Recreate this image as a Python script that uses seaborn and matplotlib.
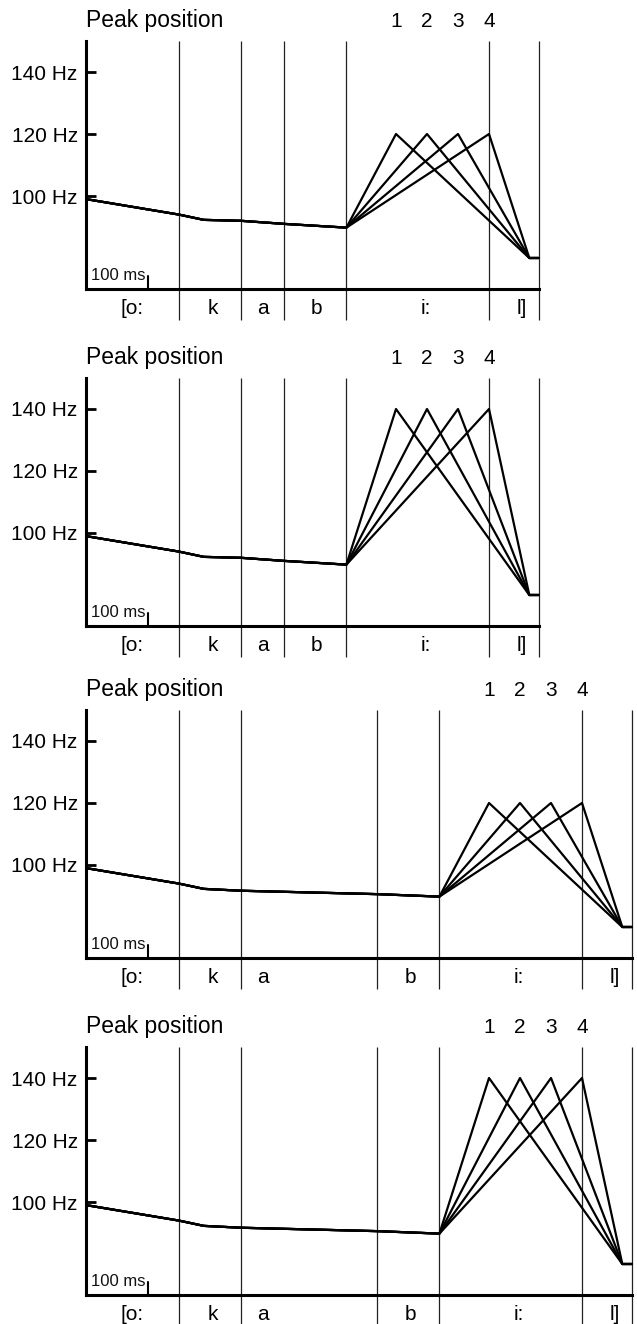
import matplotlib
matplotlib.use("Agg")
import matplotlib.pyplot as plt
import numpy as np
import pandas as pd
import seaborn as sns

# ---------------- data ----------------
segments = ["[o:", "k", "a", "b", "i:", "l]"]
bounds_short_a = [0, 150, 250, 320, 420, 650, 730]   # ms, segment boundaries (short [a])
bounds_long_a = [0, 150, 250, 470, 570, 800, 880]    # ms, segment boundaries (long [a])
label_t_short_a = [75, 205, 285, 371, 548, 703]      # ms, where segment labels sit
label_t_long_a = [75, 205, 285, 523, 698, 853]
pre_t_short_a = [0, 150, 190, 250, 320, 420]
pre_f_short_a = [99.0, 94.0, 92.3, 92.0, 91.0, 89.8]
pre_t_long_a = [0, 150, 190, 250, 470, 570]
pre_f_long_a = [99.0, 94.0, 92.3, 91.7, 90.6, 89.8]
peak_t_short_a = [500, 550, 600, 650]
peak_t_long_a = [650, 700, 750, 800]
peak_labels = ["1", "2", "3", "4"]
end_t_short_a = [715, 730]
end_t_long_a = [865, 880]
end_f = [80, 80]
panel_peak_hz = [120, 140, 120, 140]
panel_vowel = ["short", "short", "long", "long"]
yticks = [100, 120, 140]
ytick_labels = ["100 Hz", "120 Hz", "140 Hz"]
panel_title = "Peak position"
scale_ms = 100
scale_label = "100 ms"

# ---------------- style ----------------
sns.set_theme(style="white")
plt.rcParams["font.family"] = ["Liberation Sans", "DejaVu Sans"]

W, H = 637, 1324
fig = plt.figure(figsize=(W / 100, H / 100), dpi=100)
fig.patch.set_facecolor("white")

offsets = [0, 337, 669, 1006]
px_per_ms = 0.62

for i in range(4):
    off = offsets[i]
    ax = fig.add_axes([86 / W, (H - (289 + off)) / H, 551 / W, 248 / H])
    ax.set_facecolor("white")
    if panel_vowel[i] == "short":
        bounds, pre_t, pre_f = bounds_short_a, pre_t_short_a, pre_f_short_a
        peaks, end_t, lab_t = peak_t_short_a, end_t_short_a, label_t_short_a
    else:
        bounds, pre_t, pre_f = bounds_long_a, pre_t_long_a, pre_f_long_a
        peaks, end_t, lab_t = peak_t_long_a, end_t_long_a, label_t_long_a

    rows = []
    for k, pt in enumerate(peaks):
        ts = list(pre_t) + [pt] + list(end_t)
        fs = list(pre_f) + [panel_peak_hz[i]] + list(end_f)
        for order, (t, f) in enumerate(zip(ts, fs)):
            rows.append({"t": t, "f": f, "variant": peak_labels[k], "order": order})
    df = pd.DataFrame(rows)
    sns.lineplot(data=df, x="t", y="f", units="variant", estimator=None,
                 sort=False, color="black", lw=1.6, legend=False, ax=ax)

    ax.set_xlim(0, 551 / px_per_ms)
    ax.set_ylim(70, 150)

    # segment boundaries
    ax.vlines(bounds[1:], 60, 150, color="#222222", lw=0.9, clip_on=False, zorder=1)

    # spines
    for s in ["top", "right"]:
        ax.spines[s].set_visible(False)
    for s in ["left", "bottom"]:
        ax.spines[s].set_color("black")
        ax.spines[s].set_linewidth(2.2)
    ax.spines["bottom"].set_bounds(0, bounds[-1])

    ax.set_xticks([])
    ax.set_yticks(yticks)
    ax.set_yticklabels(ytick_labels)
    ax.tick_params(axis="y", direction="in", length=7, width=2, color="black",
                   labelsize=15, pad=6, left=True, labelcolor="black")
    ax.set_xlabel("")
    ax.set_ylabel("")

    # time scale bar
    ax.plot([scale_ms, scale_ms], [70, 74.2], color="black", lw=1.5, clip_on=False)
    ax.text(scale_ms - 4, 72.9, scale_label, ha="right", va="baseline",
            fontsize=12, color="#111111")

    # title and peak numbers
    ax.text(0, 154.5, panel_title, ha="left", va="baseline", fontsize=16.5,
            color="black", clip_on=False)
    for k, pt in enumerate(peaks):
        ax.text(pt, 154.5, peak_labels[k], ha="center", va="baseline",
                fontsize=15, color="black", clip_on=False)

    # segment labels
    for k, seg in enumerate(segments):
        ax.text(lab_t[k], 61.8, seg, ha="center", va="baseline", fontsize=15,
                color="black", clip_on=False)

fig.savefig("out.png", dpi=100, facecolor="white")
